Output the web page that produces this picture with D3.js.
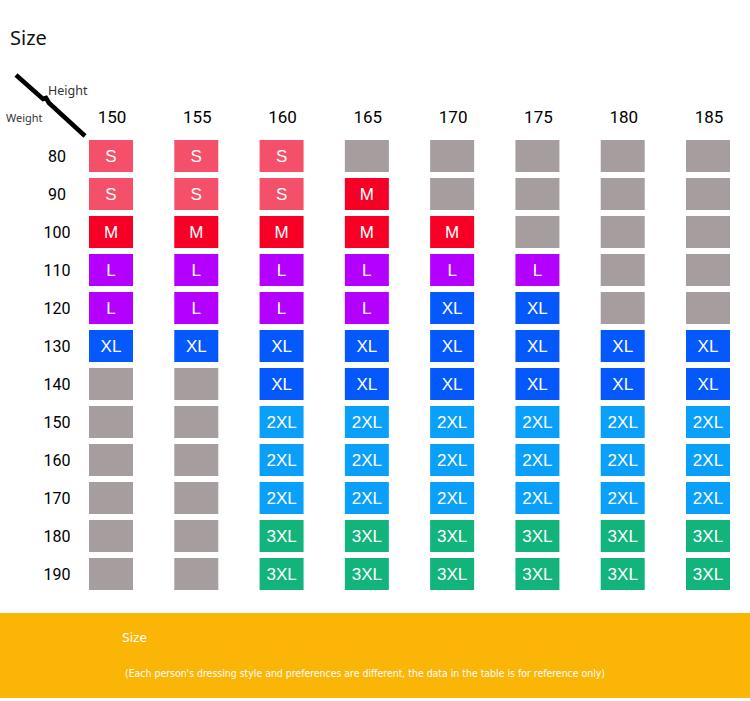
<!DOCTYPE html>
<html>
<head>
<meta charset="utf-8">
<script src="https://cdn.jsdelivr.net/npm/d3@7"></script>
<style>
  body { margin: 0; background: #fff; }
  svg { display: block; font-family: "Noto Sans", "DejaVu Sans", sans-serif; }
</style>
</head>
<body>
<div id="chart"></div>
<script>
// table data
var heights = ["150", "155", "160", "165", "170", "175", "180", "185"];
var weights = ["80", "90", "100", "110", "120", "130", "140", "150", "160", "170", "180", "190"];
// one row per weight, one entry per height, "" = not available
var sizes = [
	["S", "S", "S", "", "", "", "", ""],
	["S", "S", "S", "M", "", "", "", ""],
	["M", "M", "M", "M", "M", "", "", ""],
	["L", "L", "L", "L", "L", "L", "", ""],
	["L", "L", "L", "L", "XL", "XL", "", ""],
	["XL", "XL", "XL", "XL", "XL", "XL", "XL", "XL"],
	["", "", "XL", "XL", "XL", "XL", "XL", "XL"],
	["", "", "2XL", "2XL", "2XL", "2XL", "2XL", "2XL"],
	["", "", "2XL", "2XL", "2XL", "2XL", "2XL", "2XL"],
	["", "", "2XL", "2XL", "2XL", "2XL", "2XL", "2XL"],
	["", "", "3XL", "3XL", "3XL", "3XL", "3XL", "3XL"],
	["", "", "3XL", "3XL", "3XL", "3XL", "3XL", "3XL"]
];
var sizeNames = ["", "S", "M", "L", "XL", "2XL", "3XL"];
var sizeColors = ["#a59d9e", "#f5506a", "#f70026", "#b400ff", "#0558fc", "#0aa0fa", "#12b47c"];

var W = 750, H = 701;
var svg = d3.select("#chart").append("svg")
	.attr("width", W)
	.attr("height", H);

var x = d3.scaleBand().domain(heights).range([89, 730]).paddingInner(0.484).paddingOuter(0);
var y = d3.scaleBand().domain(weights).range([140, 590]).paddingInner(0.158).paddingOuter(0);
var color = d3.scaleOrdinal().domain(sizeNames).range(sizeColors);

// title
svg.append("text")
	.attr("x", 10).attr("y", 45)
	.style("font-size", "20px")
	.style("fill", "#111")
	.text("Size");

// corner diagonal
svg.append("path")
	.attr("d", "M16,75 L43,99 L46,98 L49,103 L85,136")
	.style("fill", "none")
	.style("stroke", "#000")
	.style("stroke-width", 4.5);
svg.append("text")
	.attr("x", 48).attr("y", 95)
	.style("font-size", "12.5px")
	.style("fill", "#333")
	.text("Height");
svg.append("text")
	.attr("x", 6).attr("y", 122)
	.style("font-size", "11px")
	.style("fill", "#333")
	.text("Weight");

// column headers
svg.selectAll(".col-label").data(heights).enter().append("text")
	.attr("class", "col-label")
	.attr("x", function(d) { return x(d) + x.bandwidth() / 2 + 1; })
	.attr("y", 123)
	.attr("text-anchor", "middle")
	.style("font-family", "Roboto, 'Noto Sans', sans-serif")
	.style("font-size", "17px")
	.style("fill", "#000")
	.text(function(d) { return d; });

// row headers
svg.selectAll(".row-label").data(weights).enter().append("text")
	.attr("class", "row-label")
	.attr("x", 57)
	.attr("y", function(d) { return y(d) + y.bandwidth() / 2 + 6; })
	.attr("text-anchor", "middle")
	.style("font-family", "Roboto, 'Noto Sans', sans-serif")
	.style("font-size", "16px")
	.style("fill", "#000")
	.text(function(d) { return d; });

// cells
var cells = [];
sizes.forEach(function(row, i) {
	row.forEach(function(s, j) {
		cells.push({ w: weights[i], h: heights[j], s: s });
	});
});

var g = svg.selectAll(".cell").data(cells).enter().append("g")
	.attr("class", "cell")
	.attr("transform", function(d) { return "translate(" + x(d.h) + "," + y(d.w) + ")"; });

g.append("rect")
	.attr("width", x.bandwidth())
	.attr("height", y.bandwidth())
	.style("fill", function(d) { return color(d.s); });

g.filter(function(d) { return d.s !== ""; }).append("text")
	.attr("x", x.bandwidth() / 2)
	.attr("y", y.bandwidth() / 2 + 6)
	.attr("text-anchor", "middle")
	.style("font-family", "'Liberation Sans', Arial, sans-serif")
	.style("font-size", "17px")
	.style("fill", "#fff")
	.text(function(d) { return d.s; });

// bottom banner
svg.append("rect")
	.attr("x", 0).attr("y", 613)
	.attr("width", W).attr("height", 85)
	.style("fill", "#fbb507");
svg.append("text")
	.attr("x", 122).attr("y", 642)
	.attr("textLength", 25)
	.attr("lengthAdjust", "spacingAndGlyphs")
	.style("font-family", "'DejaVu Sans Condensed', 'Liberation Sans Narrow', sans-serif")
	.style("font-size", "13px")
	.style("fill", "#fff")
	.text("Size");
svg.append("text")
	.attr("x", 125).attr("y", 677)
	.attr("textLength", 480)
	.attr("lengthAdjust", "spacingAndGlyphs")
	.style("font-family", "'DejaVu Sans Condensed', 'Liberation Sans Narrow', sans-serif")
	.style("font-size", "11px")
	.style("fill", "#fff")
	.text("(Each person's dressing style and preferences are different, the data in the table is for reference only)");
</script>
</body>
</html>
